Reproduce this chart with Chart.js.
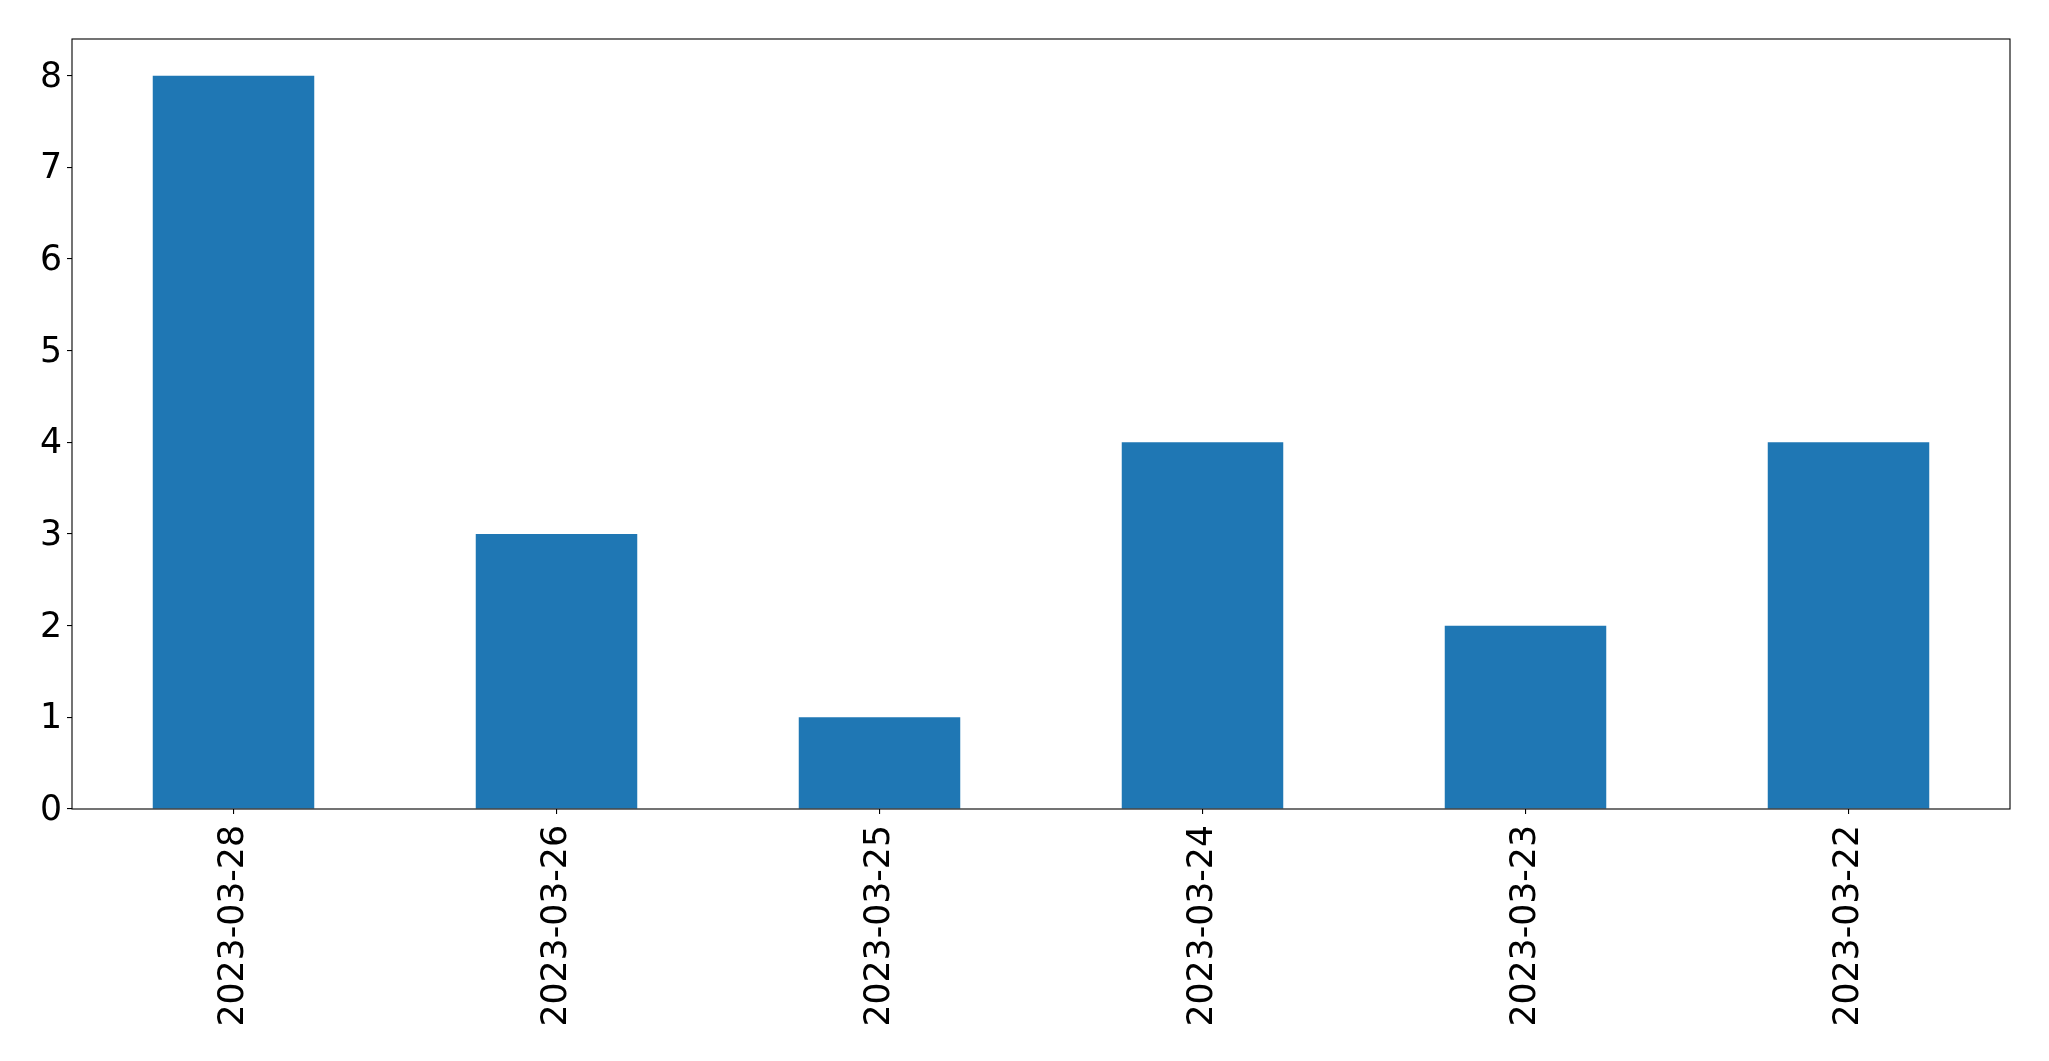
<!DOCTYPE html>
<html>
<head>
<meta charset="utf-8">
<script src="https://cdn.jsdelivr.net/npm/chart.js@4"></script>
<style>
  html, body { margin: 0; padding: 0; background: #fff; }
  #wrap { width: 2049px; height: 1061px; }
</style>
</head>
<body>
<div id="wrap"><canvas id="chart" width="2049" height="1061"></canvas></div>
<script>
const dates = ["2023-03-28", "2023-03-26", "2023-03-25", "2023-03-24", "2023-03-23", "2023-03-22"];
const counts = [8, 3, 1, 4, 2, 4];
const yTicks = [0, 1, 2, 3, 4, 5, 6, 7, 8];

const font = { family: "DejaVu Sans", size: 34.7 };

// matplotlib-style frame round the plot area
const frame = {
  id: "frame",
  afterDraw(chart) {
    const { ctx, chartArea: a } = chart;
    ctx.save();
    ctx.strokeStyle = "#000";
    ctx.lineWidth = 1.1;
    ctx.strokeRect(a.left, a.top, a.right - a.left, a.bottom - a.top);
    ctx.restore();
  }
};

new Chart(document.getElementById("chart").getContext("2d"), {
  type: "bar",
  data: {
    labels: dates,
    datasets: [{
      data: counts,
      backgroundColor: "#1f77b4",
      borderWidth: 0,
      categoryPercentage: 1.0,
      barPercentage: 0.5
    }]
  },
  options: {
    responsive: false,
    animation: false,
    layout: { padding: { top: 39, right: 39, left: 0, bottom: 0 } },
    plugins: { legend: { display: false }, tooltip: { enabled: false } },
    scales: {
      x: {
        grid: { offset: false, drawOnChartArea: false, drawTicks: true, tickLength: 5, color: "#000", lineWidth: 1.1 },
        border: { display: false },
        ticks: { color: "#000", font, minRotation: 90, maxRotation: 90, padding: 11, autoSkip: false },
        afterFit(scale) { scale.height = 1061 - 809; }
      },
      y: {
        min: 0,
        max: 8.4,
        afterBuildTicks(scale) { scale.ticks = yTicks.map(v => ({ value: v })); },
        grid: { drawOnChartArea: false, drawTicks: true, tickLength: 5, color: "#000", lineWidth: 1.1 },
        border: { display: false },
        ticks: { color: "#000", font, padding: 5, labelOffset: 2 },
        afterFit(scale) { scale.width = 72; }
      }
    }
  },
  plugins: [frame]
});
</script>
</body>
</html>
